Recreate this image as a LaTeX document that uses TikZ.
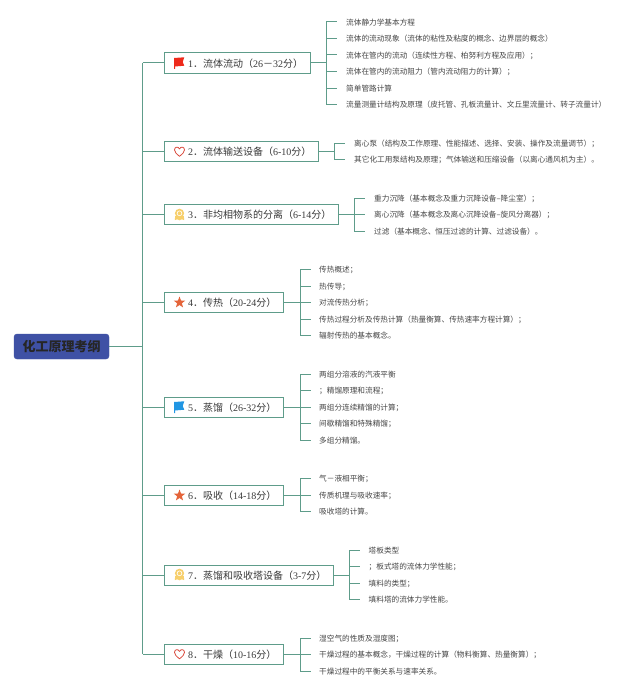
\documentclass[tikz,border=0pt]{standalone}
\usepackage{fontspec}
\setmainfont{Noto Sans CJK SC}
\newfontfamily\lat{Liberation Serif}
\usetikzlibrary{shapes.geometric}
\definecolor{linkc}{HTML}{5E9C8A}
\definecolor{rootc}{HTML}{3F51A5}
\definecolor{leaftxt}{HTML}{464646}
\definecolor{maintxt}{HTML}{3A3A3A}
\definecolor{flagred}{HTML}{EE2A1B}
\definecolor{flagblue}{HTML}{2196E3}
\definecolor{starc}{HTML}{E4643A}
\definecolor{heartc}{HTML}{D9483B}
\definecolor{medalc}{HTML}{F7CF6B}
\newcommand{\mtext}[1]{\mbox{\hspace*{11.5pt}#1}}
\tikzset{
  x=1pt,y=-1pt,
  link/.style={draw=linkc,line width=1pt},
  mainbox/.style={draw=linkc,line width=1pt,fill=white,anchor=west,minimum height=20pt,inner ysep=0pt,inner xsep=12pt,
    text width=#1pt-24pt,align=left,font=\fontsize{10}{12}\selectfont,text=maintxt,text height=9pt,text depth=1pt},
  rootbox/.style={fill=rootc,draw=rootc,rounded corners=3pt,minimum width=95pt,minimum height=25pt,inner sep=0pt,
    font=\fontsize{13}{15}\selectfont\bfseries,text=black!85},
  leaf/.style={anchor=west,inner sep=0pt,font=\fontsize{7.65}{9}\selectfont,text=leaftxt,text height=7pt,text depth=0.8pt},
  starshape/.style={star,star points=5,star point ratio=2.4,fill=starc,minimum size=12pt,inner sep=0pt},
}
\newcommand{\flagicon}[3]{\fill[#3] (#1-5,#2-5) -- (#1+5.3,#2-5.7) -- (#1+3.7,#2-1) -- (#1+5.3,#2+2.7) -- (#1-4,#2+3.5) -- (#1-4,#2+6) -- (#1-5,#2+6) -- cycle;}
\newcommand{\hearticon}[2]{\draw[heartc,line width=0.8pt,line join=round] (#1,#2+4.8) .. controls (#1-3,#2+2.4) and (#1-5,#2+0.6) .. (#1-5,#2-1.6) .. controls (#1-5,#2-5) and (#1-1.2,#2-5.2) .. (#1,#2-2.6) .. controls (#1+1.2,#2-5.2) and (#1+5,#2-5) .. (#1+5,#2-1.6) .. controls (#1+5,#2+0.6) and (#1+3,#2+2.4) .. (#1,#2+4.8) -- cycle;}
\newcommand{\medalicon}[2]{\fill[medalc] (#1,#2-1.2) circle[radius=4.6pt];
  \fill[medalc] (#1-4.4,#2+1.5) -- (#1-4.6,#2+5.6) -- (#1-2.2,#2+4.8) -- (#1,#2+5.8) -- (#1+2.2,#2+4.8) -- (#1+4.6,#2+5.6) -- (#1+4.4,#2+1.5) -- cycle;
  \draw[white,line width=0.6pt] (#1,#2-1.2) circle[radius=2.4pt];}
\begin{document}
\begin{tikzpicture}
\useasboundingbox (0,0) rectangle (640,693);
\fill[white] (0,0) rectangle (640,693);

\node[rootbox] (root) at (61.5,346.5) {化工原理考纲};
\coordinate (sp) at (142.5,346.5);
\draw[link] (root.east) -- (sp);

\node[mainbox=145.5] (m1) at (164,63) {\mtext{{\lat 1}．流体流动（{\lat 26}－{\lat 32}分）}};
\node[mainbox=154] (m2) at (164,151) {\mtext{{\lat 2}．流体输送设备（{\lat 6-10}分）}};
\node[mainbox=173.5] (m3) at (164,214.5) {\mtext{{\lat 3}．非均相物系的分离（{\lat 6-14}分）}};
\node[mainbox=119] (m4) at (164,302) {\mtext{{\lat 4}．传热（{\lat 20-24}分）}};
\node[mainbox=119] (m5) at (164,407) {\mtext{{\lat 5}．蒸馏（{\lat 26-32}分）}};
\node[mainbox=119] (m6) at (164,495) {\mtext{{\lat 6}．吸收（{\lat 14-18}分）}};
\node[mainbox=168.5] (m7) at (164,575) {\mtext{{\lat 7}．蒸馏和吸收塔设备（{\lat 3-7}分）}};
\node[mainbox=119] (m8) at (164,654) {\mtext{{\lat 8}．干燥（{\lat 10-16}分）}};

\foreach \i in {1,...,8} \draw[link] (sp |- m\i.west) -- (m\i.west);
\draw[link] (sp |- m1.west) -- (sp |- m8.west);

% icons
\flagicon{179}{63}{flagred}
\hearticon{179.5}{151.5}
\medalicon{179.5}{214.5}
\node[starshape] (s4) at (179.5,302.5) {};
\flagicon{179}{407}{flagblue}
\node[starshape] (s6) at (179.5,495.5) {};
\medalicon{179.5}{574.5}
\hearticon{179.5}{654}

% group 1
\coordinate (j1) at (326,63);
\node[leaf] (a1) at (346,22) {流体静力学基本方程};
\node[leaf] (a2) at (346,38.5) {流体的流动现象（流体的粘性及粘度的概念、边界层的概念）};
\node[leaf] (a3) at (346,55) {流体在管内的流动（连续性方程、柏努利方程及应用）；};
\node[leaf] (a4) at (346,71.5) {流体在管内的流动阻力（管内流动阻力的计算）；};
\node[leaf] (a5) at (346,88) {简单管路计算};
\node[leaf] (a6) at (346,104.5) {流量测量计结构及原理（皮托管、孔板流量计、文丘里流量计、转子流量计）};
\draw[link] (m1.east) -- (j1);
\foreach \i in {1,...,6} \draw[link] (j1) |- ([xshift=-9pt]a\i.west);

% group 2
\coordinate (j2) at (334,151);
\node[leaf] (b1) at (354,143) {离心泵（结构及工作原理、性能描述、选择、安装、操作及流量调节）；};
\node[leaf] (b2) at (354,159.5) {其它化工用泵结构及原理；气体输送和压缩设备（以离心通风机为主）。};
\draw[link] (m2.east) -- (j2);
\foreach \i in {1,2} \draw[link] (j2) |- ([xshift=-9pt]b\i.west);

% group 3
\coordinate (j3) at (354,214.5);
\node[leaf] (c1) at (374,198) {重力沉降（基本概念及重力沉降设备--降尘室）；};
\node[leaf] (c2) at (374,214.5) {离心沉降（基本概念及离心沉降设备--旋风分离器）；};
\node[leaf] (c3) at (374,231) {过滤（基本概念、恒压过滤的计算、过滤设备）。};
\draw[link] (m3.east) -- (j3);
\foreach \i in {1,2,3} \draw[link] (j3) |- ([xshift=-9pt]c\i.west);

% group 4
\coordinate (j4) at (300,302);
\node[leaf] (d1) at (319,269.5) {传热概述；};
\node[leaf] (d2) at (319,286) {热传导；};
\node[leaf] (d3) at (319,302.5) {对流传热分析；};
\node[leaf] (d4) at (319,319) {传热过程分析及传热计算（热量衡算、传热速率方程计算）；};
\node[leaf] (d5) at (319,335.5) {辐射传热的基本概念。};
\draw[link] (m4.east) -- (j4);
\foreach \i in {1,...,5} \draw[link] (j4) |- ([xshift=-8pt]d\i.west);

% group 5
\coordinate (j5) at (300,407);
\node[leaf] (e1) at (319,374) {两组分溶液的汽液平衡};
\node[leaf] (e2) at (319,390.5) {；精馏原理和流程；};
\node[leaf] (e3) at (319,407) {两组分连续精馏的计算；};
\node[leaf] (e4) at (319,423.5) {间歇精馏和特殊精馏；};
\node[leaf] (e5) at (319,440) {多组分精馏。};
\draw[link] (m5.east) -- (j5);
\foreach \i in {1,...,5} \draw[link] (j5) |- ([xshift=-8pt]e\i.west);

% group 6
\coordinate (j6) at (300,495);
\node[leaf] (f1) at (319,478.5) {气－液相平衡；};
\node[leaf] (f2) at (319,495) {传质机理与吸收速率；};
\node[leaf] (f3) at (319,511.5) {吸收塔的计算。};
\draw[link] (m6.east) -- (j6);
\foreach \i in {1,2,3} \draw[link] (j6) |- ([xshift=-8pt]f\i.west);

% group 7
\coordinate (j7) at (349,575);
\node[leaf] (g1) at (368.5,550) {塔板类型};
\node[leaf] (g2) at (368.5,566.5) {；板式塔的流体力学性能；};
\node[leaf] (g3) at (368.5,583) {填料的类型；};
\node[leaf] (g4) at (368.5,599.5) {填料塔的流体力学性能。};
\draw[link] (m7.east) -- (j7);
\foreach \i in {1,...,4} \draw[link] (j7) |- ([xshift=-8.5pt]g\i.west);

% group 8
\coordinate (j8) at (300,654);
\node[leaf] (h1) at (319,638) {湿空气的性质及湿度图；};
\node[leaf] (h2) at (319,654.5) {干燥过程的基本概念，干燥过程的计算（物料衡算、热量衡算）；};
\node[leaf] (h3) at (319,671) {干燥过程中的平衡关系与速率关系。};
\draw[link] (m8.east) -- (j8);
\foreach \i in {1,2,3} \draw[link] (j8) |- ([xshift=-8pt]h\i.west);
\end{tikzpicture}
\end{document}
